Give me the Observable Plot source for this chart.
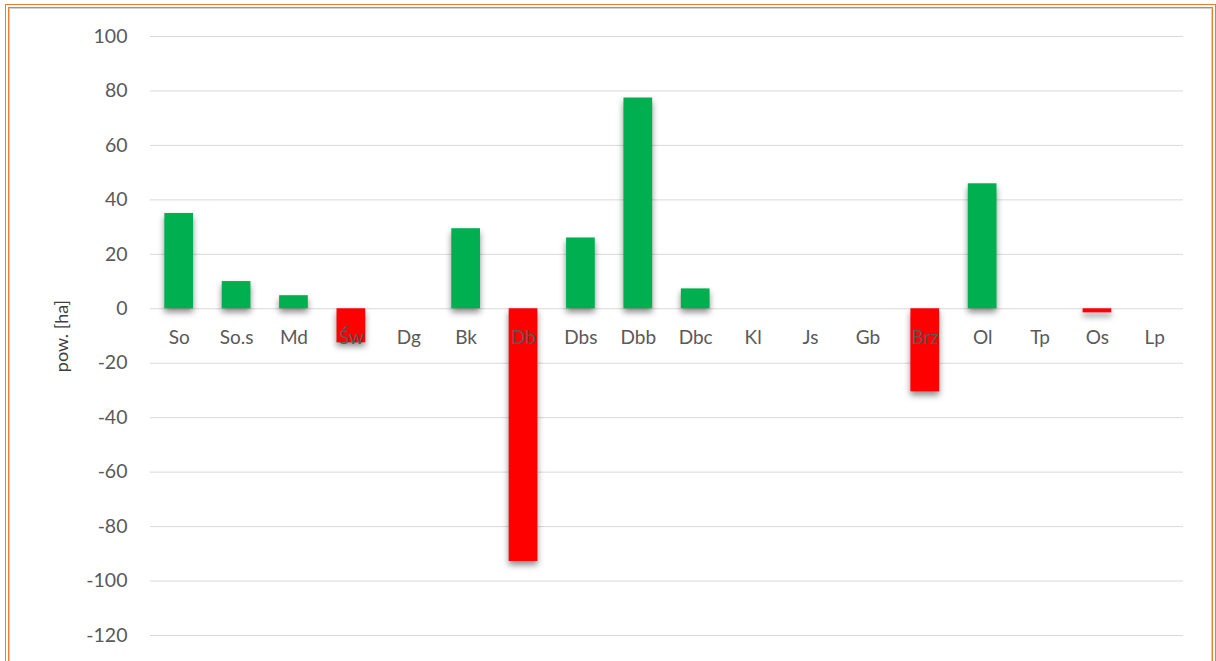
<!DOCTYPE html>
<html>
<head>
<meta charset="utf-8">
<script src="https://cdn.jsdelivr.net/npm/d3@7"></script>
<script src="https://cdn.jsdelivr.net/npm/@observablehq/plot@0.6"></script>
<style>
  html, body { margin: 0; padding: 0; background: #fff; overflow: hidden; }
  #wrap { position: relative; width: 1216px; height: 661px; }
  #frame { position: absolute; left: 5px; top: 4px; width: 1203px; height: 680px;
           border: 4px double #ED7D31; box-shadow: inset 0 0 0 1px #d0d0d0; pointer-events: none; }
  svg { position: absolute; left: 0; top: 0; }
</style>
</head>
<body>
<div id="wrap"><div id="frame"></div></div>
<script>
const categories = ["So","So.s","Md","Św","Dg","Bk","Db","Dbs","Dbb","Dbc","Kl","Js","Gb","Brz","Ol","Tp","Os","Lp"];
const values = [35, 10, 4.8, -12.5, 0, 29.4, -92.8, 26, 77.4, 7.3, 0, 0, 0, -30.5, 45.9, 0, -1.5, 0];
const yTicks = [100, 80, 60, 40, 20, 0, -20, -40, -60, -80, -100, -120];
const yLabel = "pow. [ha]";

const data = categories.map((c, i) => ({cat: c, value: values[i]}));
const font = "Lato, 'Open Sans', sans-serif";

const chart = Plot.plot({
  width: 1216,
  height: 661,
  marginLeft: 150,
  marginRight: 33,
  marginTop: 36,
  marginBottom: 26,
  style: {fontFamily: font, background: "transparent"},
  x: {domain: categories, paddingInner: 0.5, paddingOuter: 0.25, round: false, axis: null},
  y: {domain: [-120, 100], ticks: yTicks, label: null},
  marks: [
    Plot.ruleY(yTicks, {stroke: "#d9d9d9", strokeWidth: 1}),
    Plot.axisY({ticks: yTicks, tickSize: 0, tickPadding: 23, fontSize: 19.5, fill: "#595959", label: null, tickFormat: d => String(d)}),
    Plot.barY(data, {x: "cat", y: "value", fill: d => d.value >= 0 ? "#00B050" : "#FF0000", className: "bars"}),
    Plot.text(categories, {x: d => d, y: 0, dy: 29, fontSize: 19, fill: "#595959", lineAnchor: "middle"}),
    Plot.text([yLabel], {frameAnchor: "left", textAnchor: "middle", lineAnchor: "middle", dx: -88, rotate: -90, fontSize: 18, fill: "#404040"})
  ]
});
d3.select(chart).select("g.bars").style("filter", "drop-shadow(0px 4px 3px rgba(0,0,0,0.45))");
document.getElementById("wrap").prepend(chart);
</script>
</body>
</html>
